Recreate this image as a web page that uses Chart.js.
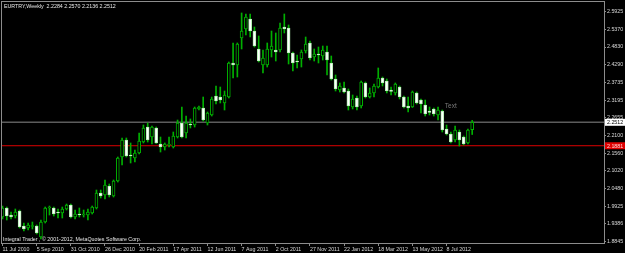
<!DOCTYPE html>
<html>
<head>
<meta charset="utf-8">
<script src="https://cdn.jsdelivr.net/npm/chart.js@4.4.1/dist/chart.umd.min.js"></script>
<style>
  html, body { margin: 0; padding: 0; background: #000; }
  #wrap { width: 625px; height: 253px; }
</style>
</head>
<body>
<div id="wrap"><canvas id="mt4Chart" width="625" height="253"></canvas></div>
<script>
// EURTRY weekly, one candle per week starting 11 Jul 2010
const openP = [
  1.9595, 1.9873, 1.9657, 1.9626, 1.9780, 1.9319, 1.9257, 1.9303, 1.9319, 1.8979,
  1.9441, 1.9873, 1.9873, 1.9749, 1.9719, 1.9842, 1.9965, 1.9595, 1.9688, 1.9657,
  1.9657, 1.9719, 1.9873, 2.0335, 2.0273, 2.0550, 2.0243, 2.0704, 2.1443, 2.1967,
  2.1505, 2.1413, 2.1567, 2.1905, 2.2367, 2.2059, 2.2337, 2.1844, 2.1751, 2.1813,
  2.1751, 2.2059, 2.2491, 2.2183, 2.2460, 2.2429, 2.2922, 2.2953, 2.2491, 2.2737,
  2.3322, 2.3291, 2.3107, 2.3291, 2.4339, 2.4277, 2.5109, 2.5386, 2.5694, 2.5324,
  2.4770, 2.4277, 2.4277, 2.4739, 2.4739, 2.4739, 2.5447, 2.5417, 2.4647, 2.4400,
  2.4462, 2.4708, 2.4955, 2.4523, 2.4616, 2.4554, 2.4677, 2.4339, 2.3846, 2.3507,
  2.3569, 2.3476, 2.2983, 2.3261, 2.3014, 2.3723, 2.3291, 2.3415, 2.3599, 2.3877,
  2.3784, 2.3507, 2.3415, 2.3599, 2.3291, 2.3014, 2.2983, 2.3415, 2.3199, 2.3045,
  2.2860, 2.2922, 2.2737, 2.2860, 2.2306, 2.2152, 2.1967, 2.2213, 2.2059, 2.1875,
  2.2284
];
const highP = [
  1.9934, 1.9903, 1.9749, 1.9842, 1.9811, 1.9411, 1.9411, 1.9441, 1.9349, 1.9503,
  1.9903, 1.9934, 1.9903, 1.9842, 1.9903, 1.9995, 1.9995, 1.9811, 1.9873, 1.9811,
  1.9842, 1.9934, 2.0427, 2.0427, 2.0735, 2.0612, 2.0735, 2.1443, 2.2029, 2.2029,
  2.1875, 2.1659, 2.2183, 2.2429, 2.2491, 2.2398, 2.2367, 2.2059, 2.1875, 2.2059,
  2.2213, 2.2583, 2.2983, 2.2706, 2.2614, 2.2983, 2.3014, 2.3291, 2.2829, 2.3291,
  2.3630, 2.3599, 2.3476, 2.4369, 2.4955, 2.4955, 2.5879, 2.5848, 2.5848, 2.5447,
  2.5170, 2.4739, 2.4955, 2.5324, 2.5263, 2.5571, 2.5848, 2.5509, 2.4677, 2.4585,
  2.4739, 2.5139, 2.5016, 2.4770, 2.4831, 2.4862, 2.4862, 2.4554, 2.3969, 2.3723,
  2.3753, 2.3538, 2.3353, 2.3322, 2.3784, 2.3753, 2.3569, 2.3692, 2.4185, 2.3907,
  2.3846, 2.3599, 2.3723, 2.3630, 2.3322, 2.3291, 2.3476, 2.3445, 2.3230, 2.3199,
  2.2983, 2.2953, 2.2983, 2.2891, 2.2429, 2.2213, 2.2398, 2.2275, 2.2090, 2.2306,
  2.2570
];
const lowP = [
  1.9534, 1.9503, 1.9534, 1.9565, 1.9257, 1.9164, 1.9195, 1.9226, 1.9072, 1.8918,
  1.9411, 1.9657, 1.9626, 1.9565, 1.9565, 1.9811, 1.9565, 1.9534, 1.9595, 1.9595,
  1.9503, 1.9688, 1.9842, 2.0181, 2.0150, 2.0212, 2.0212, 2.0673, 2.1197, 2.1443,
  2.1259, 2.1289, 2.1536, 2.1875, 2.1905, 2.1844, 2.1859, 2.1597, 2.1659, 2.1751,
  2.1721, 2.2029, 2.2029, 2.2029, 2.2337, 2.2367, 2.2891, 2.2552, 2.2429, 2.2706,
  2.3076, 2.3107, 2.2891, 2.3261, 2.3877, 2.3907, 2.4770, 2.5201, 2.5139, 2.4831,
  2.4369, 2.4031, 2.4215, 2.4523, 2.4400, 2.4677, 2.5263, 2.4308, 2.4092, 2.4185,
  2.4215, 2.4647, 2.4431, 2.4400, 2.4339, 2.4431, 2.3969, 2.3815, 2.3476, 2.3445,
  2.3415, 2.2891, 2.2922, 2.2891, 2.2953, 2.3261, 2.3261, 2.3291, 2.3569, 2.3630,
  2.3415, 2.3353, 2.3353, 2.3230, 2.2953, 2.2829, 2.2968, 2.3076, 2.2799, 2.2706,
  2.2737, 2.2706, 2.2583, 2.2213, 2.2121, 2.1875, 2.1905, 2.1782, 2.1813, 2.1844,
  2.2136
];
const closeP = [
  1.9873, 1.9626, 1.9595, 1.9749, 1.9288, 1.9226, 1.9349, 1.9319, 1.9103, 1.9441,
  1.9873, 1.9903, 1.9688, 1.9719, 1.9842, 1.9965, 1.9595, 1.9688, 1.9657, 1.9688,
  1.9749, 1.9903, 2.0335, 2.0243, 2.0581, 2.0273, 2.0704, 2.1413, 2.1967, 2.1474,
  2.1474, 2.1567, 2.1936, 2.2337, 2.1967, 2.2367, 2.1875, 2.1751, 2.1844, 2.1829,
  2.2090, 2.2491, 2.2059, 2.2491, 2.2429, 2.2953, 2.2983, 2.2583, 2.2799, 2.3230,
  2.3168, 2.3199, 2.3353, 2.4339, 2.4277, 2.4924, 2.5324, 2.5755, 2.5324, 2.4862,
  2.4400, 2.4493, 2.4770, 2.4862, 2.4677, 2.5417, 2.5386, 2.4647, 2.4339, 2.4369,
  2.4677, 2.4924, 2.4493, 2.4616, 2.4585, 2.4739, 2.4431, 2.3846, 2.3538, 2.3630,
  2.3445, 2.3014, 2.3230, 2.2983, 2.3753, 2.3291, 2.3415, 2.3630, 2.3877, 2.3723,
  2.3476, 2.3461, 2.3692, 2.3291, 2.2983, 2.2953, 2.3445, 2.3107, 2.3076, 2.2768,
  2.2814, 2.2768, 2.2891, 2.2275, 2.2152, 2.1905, 2.2275, 2.1967, 2.1844, 2.2275,
  2.2512
];

// bottom axis: week index of each date label
const dateTickIdx = [0, 8, 16, 24, 32, 40, 48, 56, 64, 72, 80, 88, 96, 104];
const dateTicks = ['11 Jul 2010', '5 Sep 2010', '31 Oct 2010', '26 Dec 2010', '20 Feb 2011',
  '17 Apr 2011', '12 Jun 2011', '7 Aug 2011', '2 Oct 2011', '27 Nov 2011',
  '22 Jan 2012', '18 Mar 2012', '13 May 2012', '8 Jul 2012'];
const priceTicks = [2.5925, 2.5370, 2.4830, 2.4290, 2.3735, 2.3195, 2.2655,
  2.2100, 2.1560, 2.1020, 2.0480, 1.9925, 1.9386, 1.8845];

const bidPrice = 2.2512;
const redLevel = 2.1790;
const redLabel = '2.1881';
const textObj = { label: 'Text', week: 103.6, price: 2.3014 };
const titleText = 'EURTRY,Weekly  2.2284 2.2570 2.2136 2.2512';
const copyText = 'Integral Trader , \u00a9 2001-2012, MetaQuotes Software Corp.';

const green = '#00b000';
const fontFam = '"Liberation Sans", Arial, sans-serif';

const bodies = [];
const wicks = [];
const bodyFill = [];
const bodyEdge = [];
for (let i = 0; i < openP.length; i++) {
  bodies.push({ x: i, y: [openP[i], closeP[i]] });
  wicks.push({ x: i, y: [lowP[i], highP[i]] });
  const up = closeP[i] >= openP[i];
  bodyFill.push(up ? '#000000' : '#ffffff');
  bodyEdge.push(up ? green : '#b4f0b4');
}

const mt4Extras = {
  id: 'mt4Extras',
  beforeDraw(chart) {
    const ctx = chart.ctx;
    ctx.save();
    ctx.fillStyle = '#000';
    ctx.fillRect(0, 0, chart.width, chart.height);
    ctx.restore();
  },
  afterDraw(chart) {
    const { ctx, chartArea: a } = chart;
    const x = chart.scales.x, y = chart.scales.y;
    ctx.save();
    // frame
    ctx.strokeStyle = '#8c8c8c';
    ctx.lineWidth = 1;
    ctx.strokeRect(a.left - 0.5, a.top - 0.5, a.right - a.left + 1, a.bottom - a.top + 1);

    ctx.textBaseline = 'middle';
    ctx.textAlign = 'left';
    ctx.font = '5.3px ' + fontFam;
    ctx.fillStyle = '#e8e8e8';
    ctx.fillText(titleText, 4, 7);
    ctx.fillText(copyText, 3, 239.5);

    ctx.font = '6.5px ' + fontFam;
    ctx.fillStyle = '#7a7a7a';
    ctx.fillText(textObj.label, x.getPixelForValue(textObj.week), y.getPixelForValue(textObj.price));

    // price badges on the right axis
    const badge = (val, txt, bg, fg) => {
      const py = y.getPixelForValue(val);
      ctx.fillStyle = bg;
      ctx.fillRect(a.right + 1, py - 3.5, 20, 7);
      ctx.fillStyle = fg;
      ctx.font = '5.3px ' + fontFam;
      ctx.fillText(txt, a.right + 3, py + 0.3);
    };
    badge(bidPrice, bidPrice.toFixed(4), '#ffffff', '#000000');
    badge(redLevel, redLabel, '#e00000', '#ffd8d8');
    ctx.restore();
  }
};

const zeroPad = (scale) => {
  scale.paddingTop = 0; scale.paddingBottom = 0;
  scale.paddingLeft = 0; scale.paddingRight = 0;
};

new Chart(document.getElementById('mt4Chart'), {
  type: 'bar',
  data: {
    datasets: [
      {
        label: 'body', data: bodies, backgroundColor: bodyFill, borderColor: bodyEdge,
        borderWidth: 1, borderSkipped: false, barThickness: 3, minBarLength: 1,
        grouped: false, order: 0
      },
      {
        label: 'wick', data: wicks, backgroundColor: green, borderWidth: 0,
        barThickness: 1, grouped: false, order: 1
      },
      {
        type: 'line', label: 'bid', data: [{ x: -1, y: bidPrice }, { x: 142, y: bidPrice }],
        borderColor: '#5c5c5c', borderWidth: 1.5, pointRadius: 0, order: 2
      },
      {
        type: 'line', label: 'level', data: [{ x: -1, y: redLevel }, { x: 142, y: redLevel }],
        borderColor: '#dd0000', borderWidth: 1, pointRadius: 0, order: 2
      }
    ]
  },
  options: {
    responsive: false,
    animation: false,
    events: [],
    layout: { padding: { left: 2, top: 2, right: 0, bottom: 0 } },
    plugins: { legend: { display: false }, tooltip: { enabled: false } },
    scales: {
      x: {
        type: 'linear',
        min: -0.12,
        max: 140.87,
        offset: false,
        grid: { offset: false, drawOnChartArea: false, drawTicks: true, tickLength: 3, color: '#8c8c8c' },
        border: { display: true, color: '#8c8c8c' },
        afterBuildTicks: (s) => { s.ticks = dateTickIdx.map(v => ({ value: v })); },
        afterFit: (s) => { s.height = 10; zeroPad(s); },
        ticks: {
          autoSkip: false, maxRotation: 0, align: 'start', padding: 0,
          color: '#d8d8d8', font: { family: fontFam, size: 5.3 },
          callback: (v) => dateTicks[dateTickIdx.indexOf(v)]
        }
      },
      y: {
        position: 'right',
        min: 1.8795,
        max: 2.6217,
        grid: { drawOnChartArea: false, drawTicks: true, tickLength: 2, color: '#8c8c8c' },
        border: { display: true, color: '#8c8c8c' },
        afterBuildTicks: (s) => { s.ticks = priceTicks.map(v => ({ value: v })); },
        afterFit: (s) => { s.width = 21; zeroPad(s); },
        ticks: {
          padding: 1, color: '#d8d8d8', font: { family: fontFam, size: 5.3 },
          callback: (v) => v.toFixed(4)
        }
      }
    }
  },
  plugins: [mt4Extras]
});
</script>
</body>
</html>
